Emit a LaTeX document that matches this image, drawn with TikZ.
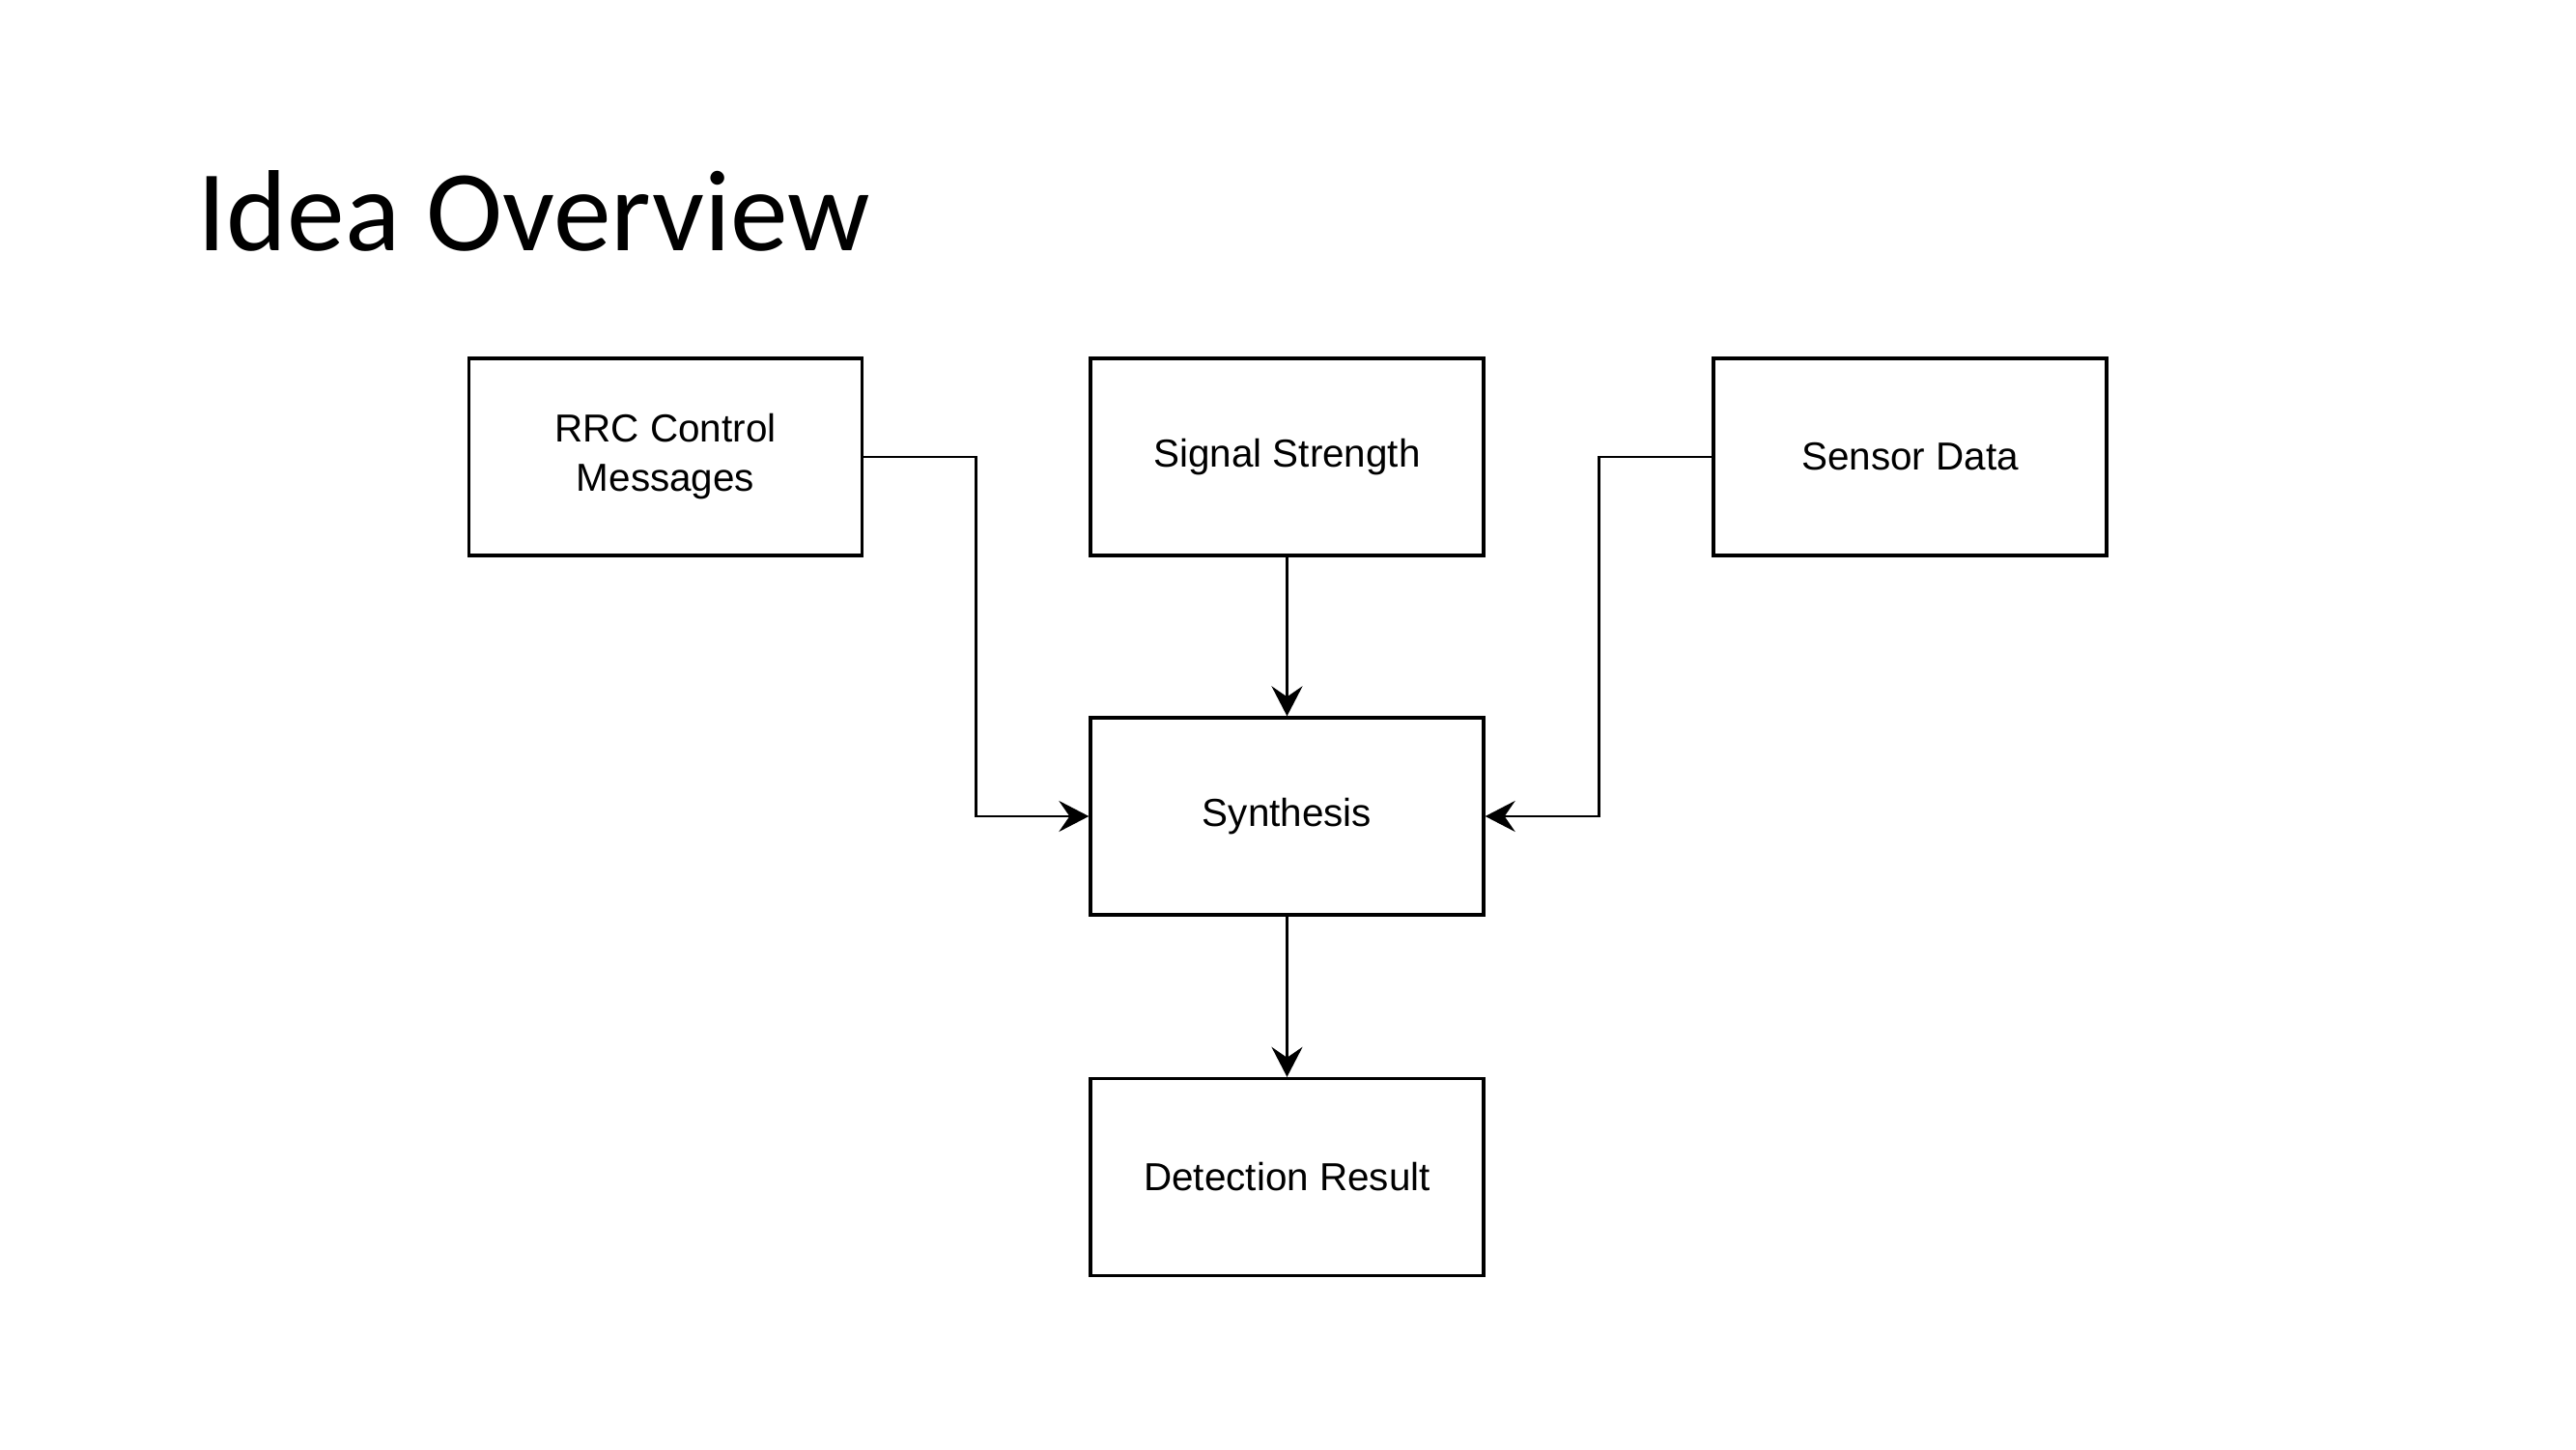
\documentclass[tikz,border=0pt]{standalone}
\usepackage{fontspec}
\setmainfont{Liberation Sans}
\newfontfamily\titlefont{Carlito}
\usetikzlibrary{arrows.meta, calc}
\begin{document}
\begin{tikzpicture}[font=\fontsize{11.5pt}{14.5pt}\selectfont, line join=miter, >={Stealth[length=3.1mm, width=3.2mm, inset=1.1mm]},
	block/.style={draw, line width=0.95pt, minimum width=4.07cm, minimum height=2.04cm, align=center, inner sep=0pt},
	link/.style={line width=0.85pt}]
		\useasboundingbox (0,0) rectangle (26.67,15);
		\node[anchor=base west, inner sep=0pt, font=\titlefont\fontsize{34pt}{40pt}\selectfont] (title) at (2.04,12.4) {Idea Overview};
		\node[block] (rrc) at (6.89,10.27) {RRC Control\\Messages};
		\node[block] (signal) at (13.325,10.27) {Signal Strength};
		\node[block] (sensor) at (19.775,10.27) {Sensor Data};
		\node[block] (synth) at (13.325,6.55) {Synthesis};
		\node[block] (result) at (13.325,2.815) {Detection Result};
		\draw[link, ->] (rrc.east) -| ($(rrc.east)!0.5!(signal.west)$) |- (synth.west);
		\draw[link, ->] (signal) -- (synth);
		\draw[link, ->] (sensor.west) -| ($(signal.east)!0.5!(sensor.west)$) |- (synth.east);
		\draw[link, ->] (synth) -- (result);
	\end{tikzpicture}
\end{document}
